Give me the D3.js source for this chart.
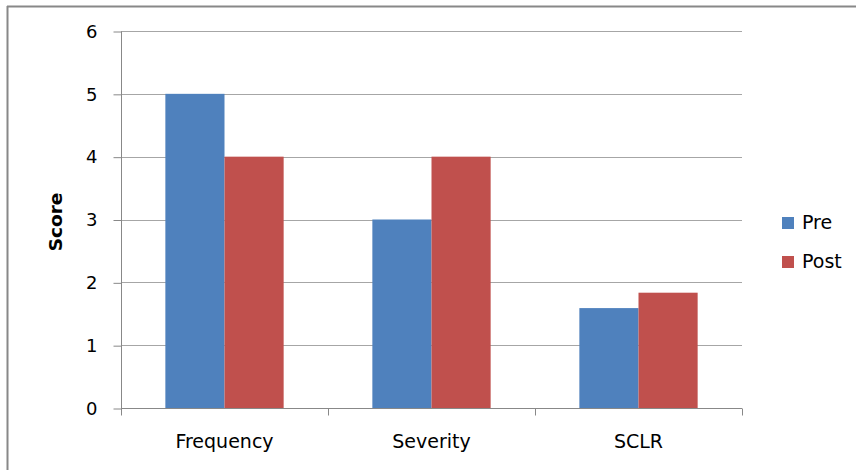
<!DOCTYPE html>
<html>
<head>
<meta charset="utf-8">
<script src="https://cdn.jsdelivr.net/npm/d3@7"></script>
<style>
  html, body { margin: 0; padding: 0; background: #fff; }
  svg { display: block; }
  text { font-family: "DejaVu Sans", sans-serif; fill: #000; }
</style>
</head>
<body>
<svg id="chart" width="856" height="470"></svg>
<script>
// Scores per measure, before and after
const categories = ["Frequency", "Severity", "SCLR"];
const seriesNames = ["Pre", "Post"];
const preValues = [5, 3, 1.59];
const postValues = [4, 4, 1.835];
const yTicks = [0, 1, 2, 3, 4, 5, 6];
const colors = ["#4F81BD", "#C0504D"];

const svg = d3.select("#chart");
const W = 856, H = 470;
const plot = { left: 121, right: 742, top: 31, bottom: 408 };
const FONT = "DejaVu Sans, sans-serif";

// outer frame (top and left edges visible)
svg.append("line").attr("x1", 7).attr("x2", W).attr("y1", 6.5).attr("y2", 6.5)
  .attr("stroke", "#888").attr("stroke-width", 2);
svg.append("line").attr("x1", 7.5).attr("x2", 7.5).attr("y1", 6).attr("y2", H)
  .attr("stroke", "#888").attr("stroke-width", 2);

const x0 = d3.scaleBand().domain(categories).range([plot.left, plot.right]).paddingInner(0).paddingOuter(0);
// gap width 150%: bars occupy 2/3.5 of each category
const gapFrac = 0.75 / 3.5;
const x1 = d3.scaleBand().domain(seriesNames)
  .range([x0.bandwidth() * gapFrac, x0.bandwidth() * (1 - gapFrac)]);
const y = d3.scaleLinear().domain([0, 6]).range([plot.bottom, plot.top]);

// horizontal gridlines
svg.append("g").selectAll("line").data(yTicks.filter(d => d > 0)).join("line")
  .attr("x1", plot.left).attr("x2", plot.right)
  .attr("y1", d => Math.round(y(d)) + 0.5).attr("y2", d => Math.round(y(d)) + 0.5)
  .attr("stroke", "#a6a6a6").attr("stroke-width", 1);

// bars
const table = categories.map((c, i) => ({ cat: c, vals: [preValues[i], postValues[i]] }));
svg.append("g").selectAll("g").data(table).join("g")
  .attr("transform", d => `translate(${x0(d.cat)},0)`)
  .selectAll("rect").data(d => d.vals.map((v, j) => ({ name: seriesNames[j], v, j }))).join("rect")
  .attr("x", d => x1(d.name)).attr("width", x1.bandwidth())
  .attr("y", d => y(d.v)).attr("height", d => y(0) - y(d.v))
  .attr("fill", d => colors[d.j]);

// y axis
const yAxis = d3.axisLeft(y).tickValues(yTicks).tickSize(8).tickPadding(16).tickFormat(d3.format("d"));
const gy = svg.append("g").attr("transform", `translate(${plot.left + 0.5},0.5)`).call(yAxis);
gy.select(".domain").attr("stroke", "#888").attr("d", `M-0,${plot.bottom}V${plot.top}`);
gy.selectAll(".tick line").attr("stroke", "#888");
gy.selectAll(".tick text").attr("font-size", 18).attr("font-family", FONT).attr("fill", "#000");

// x axis
const xAxis = d3.axisBottom(x0).tickSize(0).tickPadding(26);
const gx = svg.append("g").attr("transform", `translate(0,${plot.bottom + 0.5})`).call(xAxis);
gx.select(".domain").attr("stroke", "#888").attr("d", `M${plot.left},0H${plot.right}`);
gx.selectAll(".tick text").attr("font-size", 19).attr("font-family", FONT).attr("fill", "#000");
// category separators
gx.append("g").selectAll("line").data(categories.concat(["_end"])).join("line")
  .attr("x1", (d, i) => Math.round(plot.left + i * x0.bandwidth()) + 0.5)
  .attr("x2", (d, i) => Math.round(plot.left + i * x0.bandwidth()) + 0.5)
  .attr("y1", 0).attr("y2", 7).attr("stroke", "#888");

// y axis title
svg.append("text").attr("transform", "translate(62,222) rotate(-90)")
  .attr("text-anchor", "middle").attr("font-size", 18.5).attr("font-weight", "bold")
  .text("Score");

// legend
const lg = svg.append("g").selectAll("g").data(seriesNames).join("g")
  .attr("transform", (d, i) => `translate(782,${217 + i * 39})`);
lg.append("rect").attr("width", 12).attr("height", 12).attr("fill", (d, i) => colors[i]);
lg.append("text").attr("x", 20).attr("y", 12).attr("font-size", 19).text(d => d);
</script>
</body>
</html>
